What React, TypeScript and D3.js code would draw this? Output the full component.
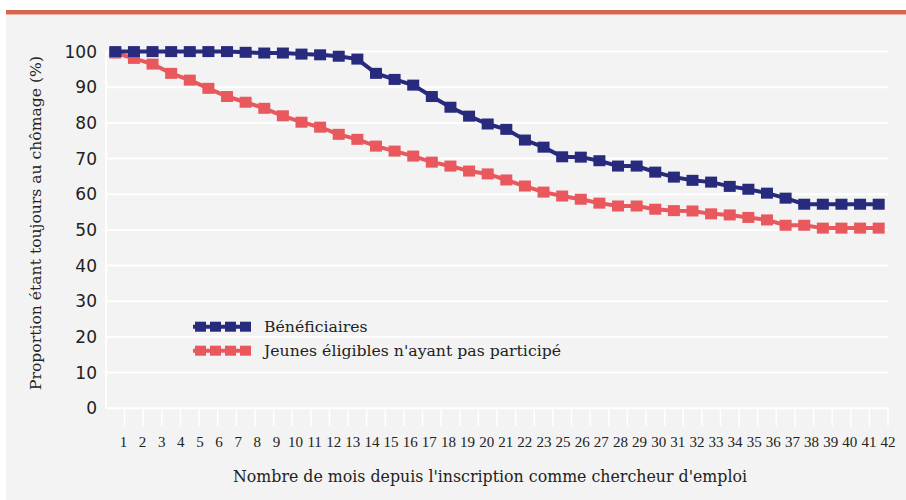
import React from "react";
import * as d3 from "d3";

const months = ["1","2","3","4","5","6","7","8","9","10","11","12","13","14","15","16","17","18","19","20","21","22","23","24","25","26","27","28","29","30","31","32","33","34","35","36","37","38","39","40","41","42"];
const tickLabels = ["1","2","3","4","5","6","7","8","9","10","11","12","13","14","15","16","17","18","19","20","21","22","23","25","26","27","28","29","30","31","32","33","34","35","36","37","38","39","40","41","42"];
const beneficiaires = [100,100,100,100,100,100,100,99.8,99.6,99.6,99.3,99.1,98.7,97.9,93.9,92.2,90.6,87.4,84.4,81.9,79.7,78.2,75.2,73.2,70.5,70.4,69.4,67.9,67.9,66.2,64.8,63.9,63.4,62.2,61.4,60.3,58.9,57.2,57.2,57.2,57.2,57.2];
const nonParticipants = [99.6,98.1,96.5,93.9,92.0,89.7,87.4,85.8,84.1,82.0,80.2,78.8,76.8,75.4,73.5,72.1,70.7,69.0,67.9,66.5,65.7,64.0,62.3,60.6,59.5,58.6,57.5,56.7,56.7,55.8,55.4,55.3,54.5,54.2,53.5,52.8,51.3,51.3,50.5,50.5,50.5,50.5];
const yTicks = [0,10,20,30,40,50,60,70,80,90,100];
const seriesNames = ["Bénéficiaires", "Jeunes éligibles n'ayant pas participé"];

const W = 906, H = 500;
const BLUE = "#272a7d";
const RED = "#e8585d";
const SERIF = "'DejaVu Serif', serif";

export default function App() {
  const x = d3.scaleBand<string>().domain(months).range([106, 888]).padding(0);
  const bw = x.bandwidth();
  const xl = d3.scalePoint<string>().domain(tickLabels).range([123.5, 888]);
  const y = d3.scaleLinear().domain([0, 100]).range([408.2, 51.6]);

  const series = [
    { name: seriesNames[1], values: nonParticipants, color: RED },
    { name: seriesNames[0], values: beneficiaires, color: BLUE },
  ];
  const line = d3.line<number>()
    .x((_, i) => (x(months[i]) as number) + bw / 2)
    .y((v) => y(v));

  const legend = [
    { name: seriesNames[0], color: BLUE },
    { name: seriesNames[1], color: RED },
  ];
  const ms = 12, mh = 11;

  return (
    <div style={{ position: "fixed", left: 0, top: 0 }}>
      <svg width={W} height={H} style={{ display: "block" }}>
        <rect x={0} y={0} width={W} height={H} fill="#ffffff" />
        <rect x={6} y={15} width={W - 6} height={H - 15} fill="#f2f3f2" />
        <rect x={6} y={10} width={W - 6} height={4.5} fill="#d6654f" />
        {yTicks.map((t) => (
          <line key={"g" + t} x1={106} x2={888} y1={y(t)} y2={y(t)} stroke="#ffffff" strokeWidth={2} />
        ))}
        <line x1={106} x2={106} y1={y(100)} y2={y(0)} stroke="#ffffff" strokeWidth={2} />
        {months.map((m) => (
          <line key={"t" + m} x1={(x(m) as number) + bw} x2={(x(m) as number) + bw} y1={y(0)} y2={426} stroke="#ffffff" strokeWidth={1.5} />
        ))}
        {tickLabels.map((l) => (
          <text key={"l" + l} x={xl(l)} y={447} textAnchor="middle" fontFamily="'Liberation Serif', serif" fontSize={15} fill="#222">{l}</text>
        ))}
        {yTicks.map((t) => (
          <text key={"yl" + t} x={97} y={y(t) + 6} textAnchor="end" fontFamily="'DejaVu Sans', sans-serif" fontSize={17} fill="#222">{t}</text>
        ))}
        {series.map((s) => (
          <g key={s.name}>
            <path d={line(s.values) || ""} fill="none" stroke={s.color} strokeWidth={4} />
            {s.values.map((v, i) => (
              <rect key={i} x={(x(months[i]) as number) + bw / 2 - ms / 2} y={y(v) - mh / 2} width={ms} height={mh} fill={s.color} />
            ))}
          </g>
        ))}
        {legend.map((l, k) => {
          const cy = 326.7 + k * 24;
          return (
            <g key={"lg" + k}>
              <line x1={193} x2={251} y1={cy} y2={cy} stroke={l.color} strokeWidth={4} />
              {[0, 1, 2, 3].map((j) => (
                <rect key={j} x={195 + j * 15} y={cy - 5} width={11} height={10} fill={l.color} />
              ))}
              <text x={264} y={cy + 5.5} fontFamily={SERIF} fontSize={15.7} fill="#222">{l.name}</text>
            </g>
          );
        })}
        <text x={490} y={482} textAnchor="middle" fontFamily={SERIF} fontSize={15.8} fill="#222">
          Nombre de mois depuis l'inscription comme chercheur d'emploi
        </text>
        <text transform={`translate(41,223) rotate(-90)`} textAnchor="middle" fontFamily={SERIF} fontSize={15.6} fill="#222">
          Proportion étant toujours au chômage (%)
        </text>
      </svg>
    </div>
  );
}
